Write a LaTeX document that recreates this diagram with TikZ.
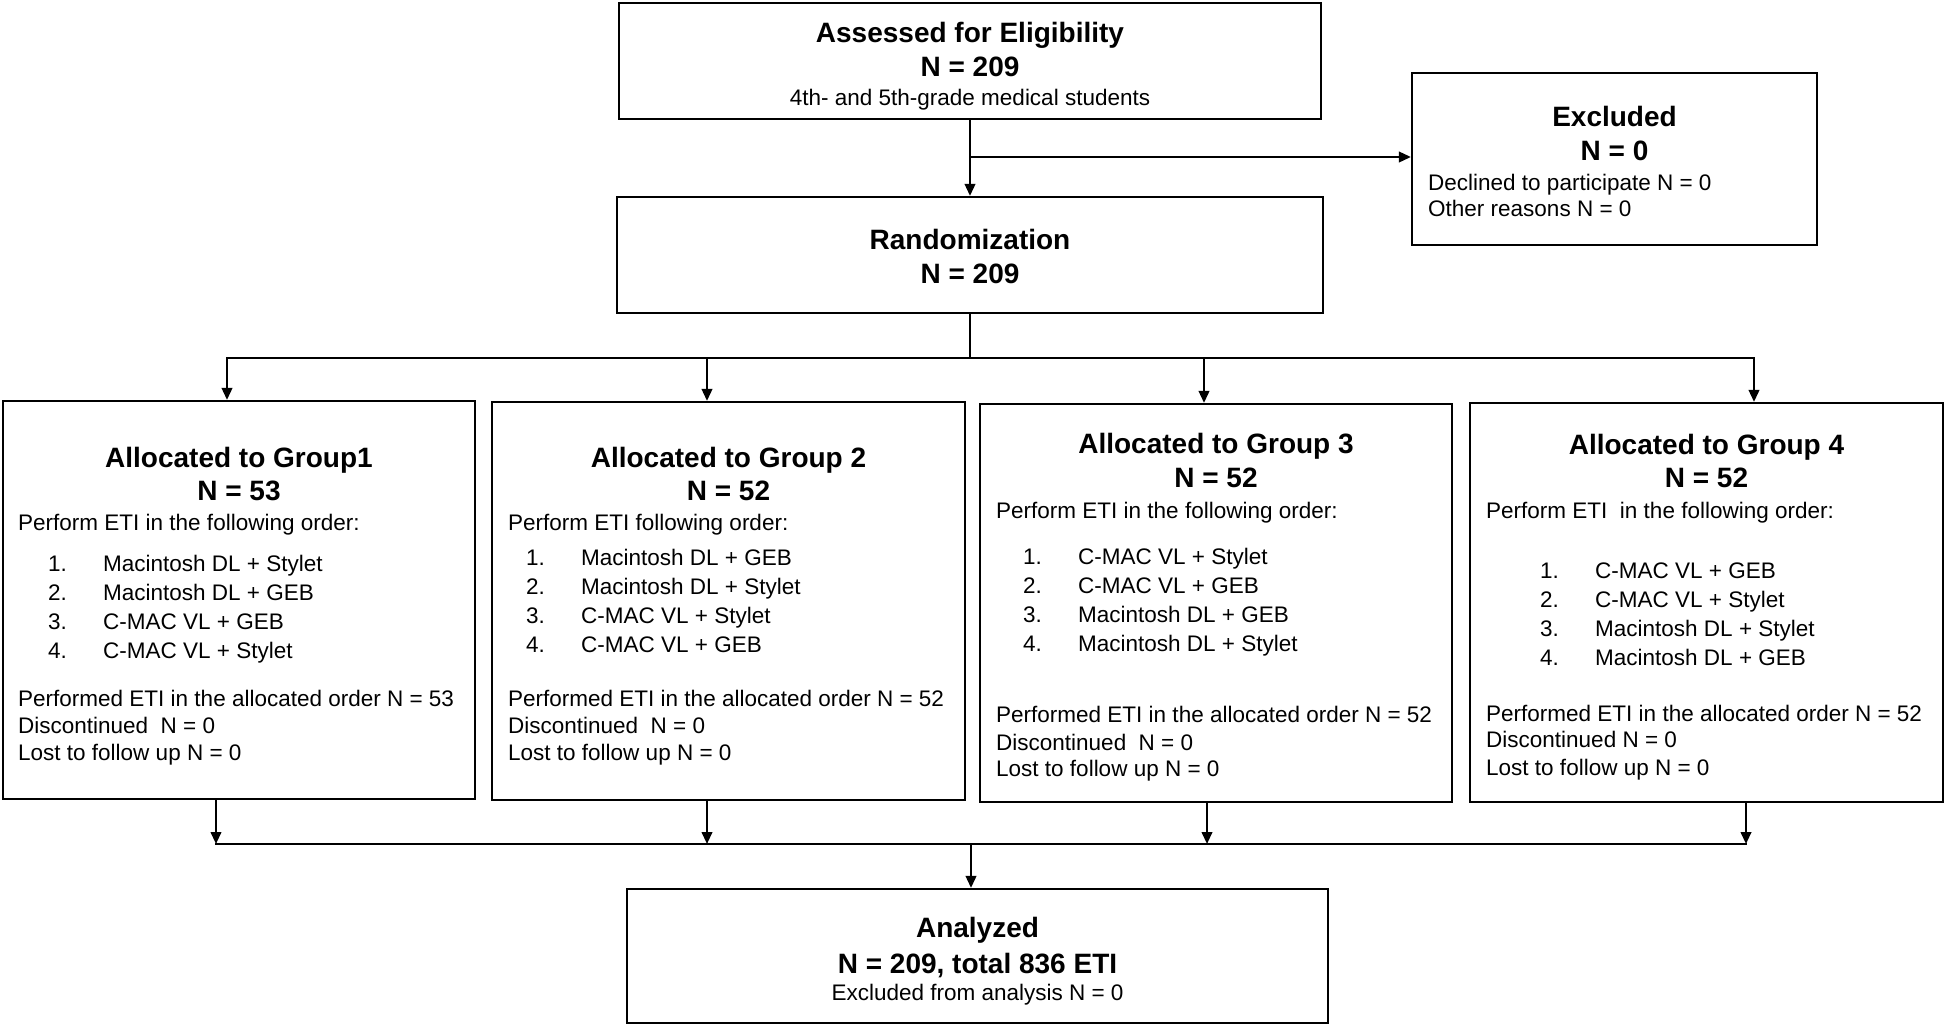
\documentclass[tikz,border=0pt]{standalone}
\usepackage{fontspec}
\setmainfont{Liberation Sans}
\usetikzlibrary{arrows.meta}

\tikzset{
  box/.style={draw, line width=2.2pt},
  ttl/.style={anchor=base, font=\fontsize{28}{30}\selectfont\bfseries},
  txt/.style={anchor=base west, font=\fontsize{22.5}{27}\selectfont},
  ctr/.style={anchor=base, font=\fontsize{22.5}{27}\selectfont},
  wire/.style={line width=2.3pt, line cap=rect},
  link/.style={line width=2.3pt, -{Triangle[length=12pt, width=10.5pt]}},
}
\newcommand{\stepitem}[2]{\makebox[55pt][l]{#1.}#2}

\begin{document}
\begin{tikzpicture}[x=1pt, y=-1pt, every node/.style={inner sep=0pt}]

\fill[white] (0,0) rectangle (1946,1026);
\useasboundingbox (0,0) rectangle (1946,1026);

% the frames
\node[box, minimum width=702pt, minimum height=116pt] (assess) at (970,61) {};
\node[box, minimum width=405pt, minimum height=172pt] (excl) at (1614.5,159) {};
\node[box, minimum width=706pt, minimum height=116pt] (rand) at (970,255) {};
\node[box, minimum width=472pt, minimum height=398pt] (g1) at (239,600) {};
\node[box, minimum width=473pt, minimum height=398pt] (g2) at (728.5,601) {};
\node[box, minimum width=472pt, minimum height=398pt] (g3) at (1216,603) {};
\node[box, minimum width=473pt, minimum height=399pt] (g4) at (1706.5,602.5) {};
\node[box, minimum width=701pt, minimum height=134pt] (an) at (977.5,956) {};

% enrolment
\node[ttl] (assessT) at (970,42) {Assessed for Eligibility};
\node[ttl] (assessN) at (970,76) {N = 209};
\node[ctr] (assessS) at (970,105) {4th- and 5th-grade medical students};

\node[ttl] (exclT) at (1614.5,126) {Excluded};
\node[ttl] (exclN) at (1614.5,160) {N = 0};
\node[txt] (exclA) at (1428,190) {Declined to participate N = 0};
\node[txt] (exclB) at (1428,216) {Other reasons N = 0};

\node[ttl] (randT) at (970,249) {Randomization};
\node[ttl] (randN) at (970,283) {N = 209};

% group 1
\node[ttl] (g1T) at (239,467) {Allocated to Group1};
\node[ttl] (g1N) at (239,500) {N = 53};
\node[txt] (g1P) at (18,530) {Perform ETI in the following order:};
\foreach \dev [count=\k] in {Macintosh DL + Stylet, Macintosh DL + GEB, C-MAC VL + GEB, C-MAC VL + Stylet}
  \node[txt] (g1i\k) at (48,{571+29.2*(\k-1)}) {\stepitem{\k}{\dev}};
\node[txt] (g1a) at (18,706) {Performed ETI in the allocated order N = 53};
\node[txt] (g1b) at (18,733) {Discontinued~ N = 0};
\node[txt] (g1c) at (18,760) {Lost to follow up N = 0};

% group 2
\node[ttl] (g2T) at (728.5,467) {Allocated to Group 2};
\node[ttl] (g2N) at (728.5,500) {N = 52};
\node[txt] (g2P) at (508,530) {Perform ETI following order:};
\foreach \dev [count=\k] in {Macintosh DL + GEB, Macintosh DL + Stylet, C-MAC VL + Stylet, C-MAC VL + GEB}
  \node[txt] (g2i\k) at (526,{565+29.3*(\k-1)}) {\stepitem{\k}{\dev}};
\node[txt] (g2a) at (508,706) {Performed ETI in the allocated order N = 52};
\node[txt] (g2b) at (508,733) {Discontinued~ N = 0};
\node[txt] (g2c) at (508,760) {Lost to follow up N = 0};

% group 3
\node[ttl] (g3T) at (1216,453) {Allocated to Group 3};
\node[ttl] (g3N) at (1216,487) {N = 52};
\node[txt] (g3P) at (996,518) {Perform ETI in the following order:};
\foreach \dev [count=\k] in {C-MAC VL + Stylet, C-MAC VL + GEB, Macintosh DL + GEB, Macintosh DL + Stylet}
  \node[txt] (g3i\k) at (1023,{564+29.3*(\k-1)}) {\stepitem{\k}{\dev}};
\node[txt] (g3a) at (996,722) {Performed ETI in the allocated order N = 52};
\node[txt] (g3b) at (996,750) {Discontinued~ N = 0};
\node[txt] (g3c) at (996,776) {Lost to follow up N = 0};

% group 4
\node[ttl] (g4T) at (1706.5,454) {Allocated to Group 4};
\node[ttl] (g4N) at (1706.5,487) {N = 52};
\node[txt] (g4P) at (1486,518) {Perform ETI~ in the following order:};
\foreach \dev [count=\k] in {C-MAC VL + GEB, C-MAC VL + Stylet, Macintosh DL + Stylet, Macintosh DL + GEB}
  \node[txt] (g4i\k) at (1540,{578+29.3*(\k-1)}) {\stepitem{\k}{\dev}};
\node[txt] (g4a) at (1486,721) {Performed ETI in the allocated order N = 52};
\node[txt] (g4b) at (1486,747) {Discontinued N = 0};
\node[txt] (g4c) at (1486,775) {Lost to follow up N = 0};

% analysis
\node[ttl] (anT) at (977.5,937) {Analyzed};
\node[ttl] (anN) at (977.5,973) {N = 209, total 836 ETI};
\node[ctr] (anS) at (977.5,1000) {Excluded from analysis N = 0};

% connectors, top half
\coordinate (brk) at (970,157);
\draw[link] (assess.south) -- (rand.north);
\draw[link] (brk) -- (brk -| excl.west);

\coordinate (t1) at (227,358);
\coordinate (t2) at (707,358);
\coordinate (t3) at (1204,358);
\coordinate (t4) at (1754,358);
\draw[wire] (rand.south) -- (rand.south |- t1);
\draw[link] (rand.south |- t1) -- (t1) -- (t1 |- g1.north);
\draw[link] (rand.south |- t1) -- (t4) -- (t4 |- g4.north);
\draw[link] (t2) -- (t2 |- g2.north);
\draw[link] (t3) -- (t3 |- g3.north);

% connectors, bottom half
\coordinate (b1) at (216,844);
\coordinate (b2) at (707,844);
\coordinate (b3) at (1207,844);
\coordinate (b4) at (1746,844);
\coordinate (bm) at (971,844);
\draw[wire] (b1) -- (b4);
\draw[link] (b1 |- g1.south) -- (b1);
\draw[link] (b2 |- g2.south) -- (b2);
\draw[link] (b3 |- g3.south) -- (b3);
\draw[link] (b4 |- g4.south) -- (b4);
\draw[link] (bm) -- (bm |- an.north);

\end{tikzpicture}
\end{document}
